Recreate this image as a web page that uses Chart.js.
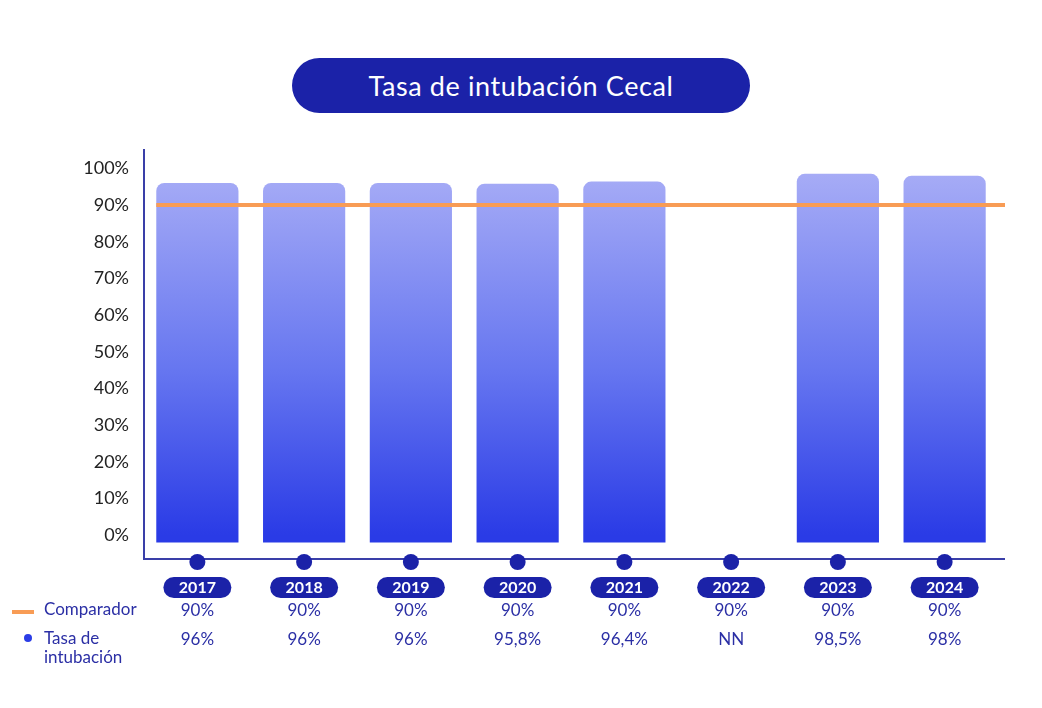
<!DOCTYPE html>
<html>
<head>
<meta charset="utf-8">
<script src="https://cdn.jsdelivr.net/npm/chart.js@4.4.1/dist/chart.umd.min.js"></script>
<style>
	body { margin: 0; background: #fff; font-family: Lato, 'Noto Sans', sans-serif; }
	#wrap { position: relative; width: 1042px; height: 708px; }
	#titulo {
		position: absolute; left: 292px; top: 58px; width: 458px; height: 55px;
		background: #1b22a8; color: #fff; border-radius: 28px;
		font-size: 27px; line-height: 55px; text-align: center; letter-spacing: 0.6px;
	}
	canvas { position: absolute; left: 0; top: 0; }
</style>
</head>
<body>
<div id="wrap">
	<canvas id="tasaChart" width="1042" height="708"></canvas>
	<div id="titulo">Tasa de intubación Cecal</div>
</div>
<script>
// datos del gráfico
const anios = ['2017', '2018', '2019', '2020', '2021', '2022', '2023', '2024'];
const tasa = [96, 96, 96, 95.8, 96.4, null, 98.5, 98];
const comparador = [90, 90, 90, 90, 90, 90, 90, 90];
const tasaTexto = ['96%', '96%', '96%', '95,8%', '96,4%', 'NN', '98,5%', '98%'];
const comparadorTexto = ['90%', '90%', '90%', '90%', '90%', '90%', '90%', '90%'];
const yTicks = [0, 10, 20, 30, 40, 50, 60, 70, 80, 90, 100];

const azul = '#1b22a8';
const naranja = '#f89c55';
const fuente = "Lato, 'Noto Sans', sans-serif";

// dibuja linea comparador, eje x, puntos, etiquetas y tabla
const extras = {
	id: 'extras',
	afterDatasetsDraw(chart) {
		const ctx = chart.ctx;
		const x = chart.scales.x;
		const y = chart.scales.y;
		const area = chart.chartArea;
		const meta = chart.getDatasetMeta(0);
		const bar0 = meta.data[0];
		const left = bar0.x - bar0.width / 2;
		ctx.save();
		// linea comparador
		ctx.strokeStyle = naranja;
		ctx.lineWidth = 4;
		ctx.beginPath();
		ctx.moveTo(left, y.getPixelForValue(comparador[0]));
		ctx.lineTo(area.right + 7, y.getPixelForValue(comparador[0]));
		ctx.stroke();
		// eje x
		ctx.strokeStyle = '#3a3fa8';
		ctx.lineWidth = 2;
		ctx.beginPath();
		ctx.moveTo(area.left, area.bottom);
		ctx.lineTo(area.right + 7, area.bottom);
		ctx.stroke();
		anios.forEach((a, i) => {
			const cx = x.getPixelForValue(i);
			// punto
			ctx.fillStyle = azul;
			ctx.beginPath();
			ctx.arc(cx, area.bottom + 3, 8, 0, Math.PI * 2);
			ctx.fill();
			// pastilla del año
			ctx.beginPath();
			ctx.roundRect(cx - 34, 577, 68, 21, 10.5);
			ctx.fill();
			ctx.fillStyle = '#fff';
			ctx.font = 'bold 16px ' + fuente;
			ctx.textAlign = 'center';
			ctx.textBaseline = 'middle';
			ctx.fillText(a, cx, 588);
			// valores
			ctx.fillStyle = '#2b2fa5';
			ctx.font = '17px ' + fuente;
			ctx.fillText(comparadorTexto[i], cx, 611);
			ctx.fillText(tasaTexto[i], cx, 640);
		});
		// leyenda de la tabla
		ctx.strokeStyle = naranja;
		ctx.lineWidth = 4;
		ctx.beginPath();
		ctx.moveTo(12, 612);
		ctx.lineTo(34, 612);
		ctx.stroke();
		ctx.fillStyle = '#2b3de6';
		ctx.beginPath();
		ctx.arc(28, 638, 4, 0, Math.PI * 2);
		ctx.fill();
		ctx.fillStyle = '#2b2fa5';
		ctx.font = '17px ' + fuente;
		ctx.textAlign = 'left';
		ctx.fillText('Comparador', 44, 610);
		ctx.fillText('Tasa de', 44, 639);
		ctx.fillText('intubación', 44, 658);
		ctx.restore();
	}
};

const tasa_ctx = document.getElementById('tasaChart').getContext('2d');
const config = {
	type: 'bar',
	data: {
		labels: anios,
		datasets: [
			{
				label: 'Tasa de intubación',
				data: tasa,
				base: -2,
				backgroundColor: function(context) {
					const chart = context.chart;
					if (!chart.chartArea) return '#6070f0';
					const y = chart.scales.y;
					const g = chart.ctx.createLinearGradient(0, y.getPixelForValue(100), 0, y.getPixelForValue(0));
					g.addColorStop(0, '#a8adf6');
					g.addColorStop(0.55, '#6676f0');
					g.addColorStop(1, '#2a3be6');
					return g;
				},
				borderRadius: { topLeft: 8, topRight: 8, bottomLeft: 0, bottomRight: 0 },
				borderSkipped: false,
				barPercentage: 0.77,
				categoryPercentage: 1
			}
		]
	},
	options: {
		responsive: false,
		animation: false,
		layout: {
			padding: { left: 0, right: 44, top: 150, bottom: 149 }
		},
		plugins: {
			legend: { display: false },
			tooltip: { enabled: false }
		},
		scales: {
			x: {
				display: false
			},
			y: {
				min: -6.5,
				max: 105,
				afterBuildTicks: axis => { axis.ticks = yTicks.map(v => ({ value: v })); },
				afterFit: axis => { axis.width = 144; },
				grid: {
					drawOnChartArea: false,
					drawTicks: false
				},
				border: {
					display: true,
					color: '#3a3fa8',
					width: 2
				},
				ticks: {
					padding: 15,
					color: '#222',
					font: { family: fuente, size: 18 },
					callback: v => v + '%'
				}
			}
		}
	},
	plugins: [extras]
};
let tasaChart = new Chart(tasa_ctx, config);
</script>
</body>
</html>
